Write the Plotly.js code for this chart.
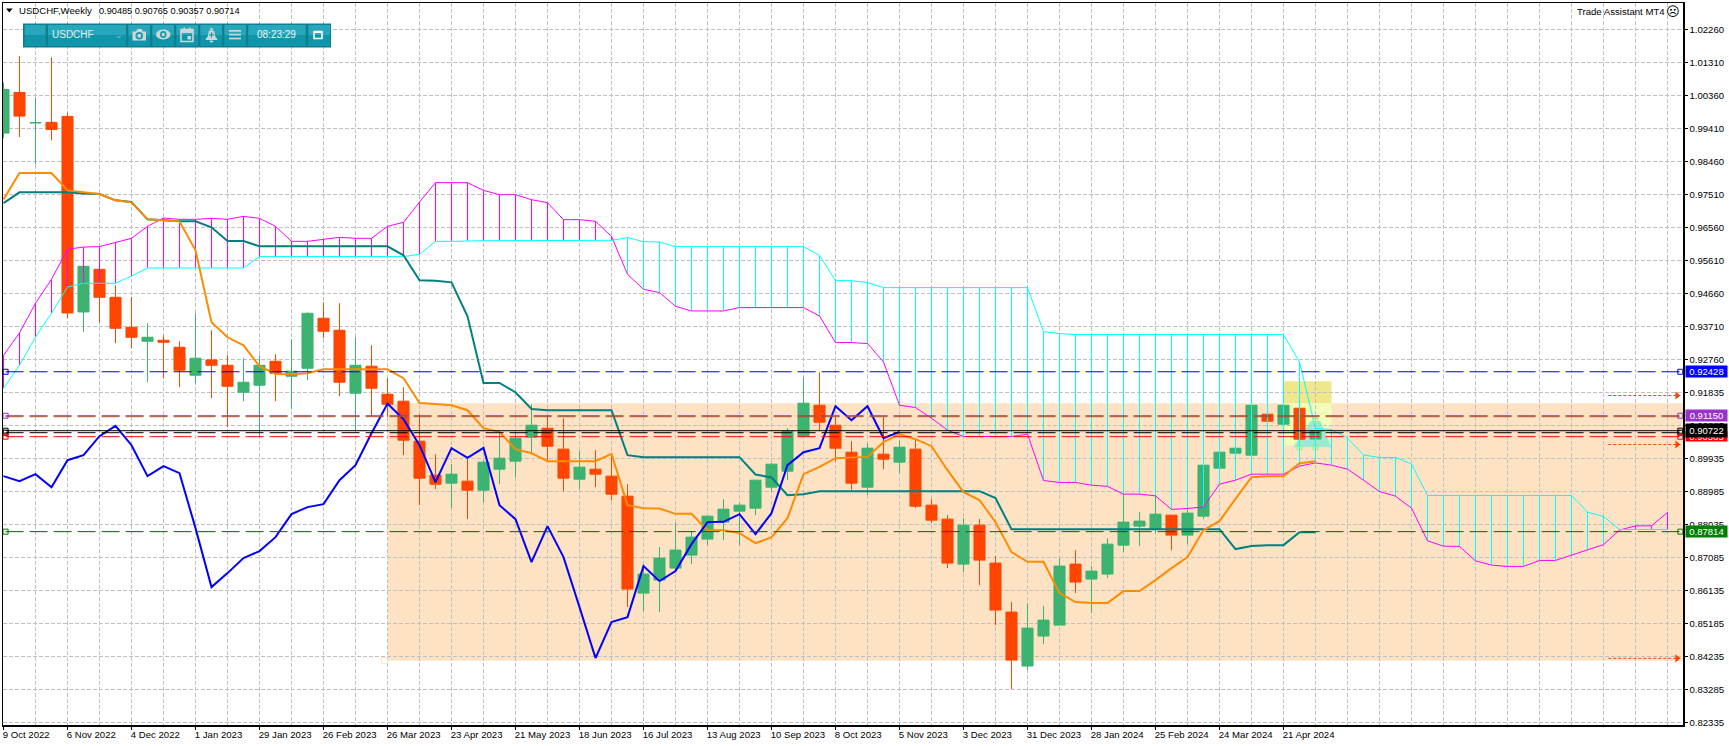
<!DOCTYPE html>
<html>
<head>
<meta charset="utf-8">
<script src="https://cdn.plot.ly/plotly-3.0.1.min.js"></script>
<style>html,body{margin:0;padding:0;background:#fff;overflow:hidden}</style>
</head>
<body>
<div id="chart" style="width:1729px;height:746px"></div>
<script>
const xLabels = ["9 Oct 2022","6 Nov 2022","4 Dec 2022","1 Jan 2023","29 Jan 2023","26 Feb 2023","26 Mar 2023","23 Apr 2023","21 May 2023","18 Jun 2023","16 Jul 2023","13 Aug 2023","10 Sep 2023","8 Oct 2023","5 Nov 2023","3 Dec 2023","31 Dec 2023","28 Jan 2024","25 Feb 2024","24 Mar 2024","21 Apr 2024"];
const yLabels = [1.02260,1.01310,1.00360,0.99410,0.98460,0.97510,0.96560,0.95610,0.94660,0.93710,0.92760,0.91835,0.90885,0.89935,0.88985,0.88035,0.87085,0.86135,0.85185,0.84235,0.83285,0.82335];

const opens = [.99287,1.00457,.99577,.99595,.99767,.94141,.95368,.94563,.93701,.93298,.93327,.93126,.92321,.92761,.92608,.91832,.92033,.92723,.92292,.92522,.93960,.93615,.91803,.92580,.91775,.91573,.90423,.89446,.89216,.89273,.89014,.89618,.89848,.90538,.90797,.90194,.89331,.89618,.89417,.88842,.86053,.86427,.86772,.87146,.87606,.88095,.88411,.88497,.89101,.89561,.90567,.91458,.90883,.90107,.89101,.90050,.89820,.90194,.88583,.88181,.86887,.88008,.86916,.85507,.83955,.84817,.85133,.86887,.86456,.86600,.87433,.87980,.87893,.88296,.87721,.88267,.89647,.90078,.90021,.91200,.90912,.91372,.90485];
const highs = [1.00744,1.01492,1.00313,1.01463,.99862,.95455,.95368,.94908,.94572,.93816,.93471,.93298,.94103,.93615,.92896,.92810,.92896,.92925,.93356,.94132,.94420,.94391,.93413,.93183,.92235,.91976,.91200,.90050,.89762,.89906,.89877,.90653,.90682,.91487,.91171,.91085,.90136,.90165,.90078,.89187,.86858,.87376,.88066,.87836,.88267,.88756,.88641,.89302,.89791,.90797,.92263,.92407,.91113,.90423,.90366,.91113,.90452,.90452,.88756,.88296,.88210,.88181,.87117,.85795,.85766,.85680,.87060,.87290,.86830,.87635,.88928,.88382,.88842,.88296,.88497,.89733,.90107,.90280,.91516,.91257,.91516,.91430,.90765];
const lows = [.99143,.99172,.98387,.99077,.93968,.93566,.93836,.93241,.93097,.92119,.92235,.91976,.92091,.91660,.90826,.91573,.90567,.91573,.91343,.92177,.93385,.91717,.90740,.91142,.91122,.90021,.88583,.89043,.88497,.88181,.88670,.89187,.89388,.90078,.89877,.88986,.89043,.89101,.88727,.85651,.85536,.85507,.86715,.86887,.87433,.87577,.87433,.88296,.88957,.89302,.90567,.90740,.89848,.89014,.88871,.89618,.89504,.88497,.88066,.86772,.86657,.86283,.85133,.83293,.83840,.84587,.85133,.86053,.85478,.86485,.87232,.87405,.87778,.87290,.87462,.88181,.89589,.90021,.89992,.90941,.90855,.90423,.90357];
const closes = [1.00543,.99776,.99592,.99393,.94112,.95455,.94563,.93672,.93413,.93413,.93270,.92465,.92810,.92608,.92005,.92119,.92608,.92378,.92436,.94103,.93586,.92119,.92608,.91947,.91487,.90452,.89360,.89187,.89475,.89014,.89820,.89935,.90510,.90883,.90280,.89360,.89676,.89475,.88900,.86168,.86600,.87060,.87290,.87663,.88267,.88468,.88583,.89302,.89762,.90711,.91516,.90970,.90222,.89216,.90222,.89906,.90251,.88554,.88152,.86916,.88008,.87002,.85565,.84127,.85047,.85277,.86830,.86370,.86686,.87462,.88095,.88124,.88325,.87721,.88353,.89733,.90107,.90222,.91458,.90998,.91458,.90481,.90714];

const tenkan = [.97381,.98137,.98137,.98137,.97639,.97582,.97533,.97352,.97295,.96806,.96777,.96748,.95915,.93845,.93413,.93183,.92580,.92358,.92350,.92378,.92493,.92493,.92493,.92493,.92493,.92235,.91524,.91496,.91458,.91314,.90797,.90691,.90194,.90078,.89848,.89848,.89848,.89848,.90058,.88583,.88497,.88488,.88333,.88333,.87864,.87864,.87778,.87491,.87655,.88210,.89475,.89684,.89935,.89963,.89972,.90395,.90625,.90481,.90280,.89589,.88957,.88727,.88095,.87232,.86953,.86953,.86053,.85795,.85766,.85766,.86111,.86111,.86427,.86772,.87088,.87864,.88124,.88764,.89388,.89417,.89417,.89791,.89848];
const kijun = [.97274,.97582,.97582,.97582,.97582,.97553,.97533,.97352,.97303,.96806,.96777,.96748,.96748,.96576,.96182,.96182,.96030,.96030,.96030,.96030,.96030,.96030,.96030,.96030,.96030,.95771,.95052,.95037,.94994,.94017,.92099,.92099,.91832,.91352,.91314,.91314,.91314,.91314,.91314,.90021,.89963,.89963,.89963,.89963,.89963,.89963,.89963,.89466,.89380,.88871,.88900,.88986,.88986,.88986,.88986,.88986,.88986,.88986,.88986,.88986,.88986,.88986,.88785,.87893,.87893,.87893,.87893,.87893,.87893,.87893,.87893,.87893,.87893,.87893,.87893,.87893,.87893,.87319,.87405,.87433,.87433,.87807,.87807];
const chikou = [.89417,.89273,.89475,.89101,.89877,.90021,.90567,.90863,.90308,.89417,.89705,.89504,.87922,.86226,.86628,.87060,.87261,.87663,.88325,.88526,.88612,.89302,.89733,.90653,.91507,.91056,.90308,.89245,.90222,.89943,.90231,.88583,.88181,.86945,.87980,.87088,.85651,.84184,.85220,.85363,.86830,.86398,.86686,.87462,.88095,.88104,.88325,.87750,.88353,.89733,.90107,.90222,.91430,.91027,.91430,.90510,.90691];
const spanB = [.92896,.93537,.94391,.95081,.95943,.96009,.96021,.96145,.96260,.96605,.96843,.96806,.96806,.96835,.96806,.96892,.96835,.96605,.96173,.96173,.96231,.96288,.96260,.96260,.96605,.96720,.97303,.97861,.97861,.97861,.97639,.97516,.97516,.97372,.97286,.96797,.96797,.96748,.96317,.95225,.94793,.94698,.94305,.94170,.94170,.94170,.94267,.94267,.94267,.94267,.94267,.94026,.93261,.93261,.93232,.92703,.91458,.91392,.91085,.90740,.90558,.90558,.90558,.90558,.90625,.89293,.89236,.89236,.89158,.89124,.88900,.88900,.88851,.88460,.88488,.88526,.89187,.89302,.89475,.89475,.89475,.89705,.89800,.89733,.89618,.89302,.88977,.88842,.88497,.87557,.87405,.87396,.86982,.86858,.86821,.86821,.86993,.86993,.87146,.87304,.87448,.87864,.87988,.87988,.88373];
const spanA = [.91947,.92608,.93422,.94103,.94859,.94966,.94966,.94966,.95176,.95406,.95406,.95406,.95406,.95406,.95406,.95406,.95734,.95734,.95734,.95734,.95734,.95734,.95734,.95734,.95734,.95734,.95800,.96173,.96173,.96193,.96193,.96193,.96193,.96193,.96193,.96193,.96193,.96193,.96202,.96280,.96165,.96153,.96021,.96021,.96021,.96021,.96021,.96021,.96021,.96021,.96021,.95771,.95043,.95043,.94986,.94842,.94842,.94842,.94842,.94842,.94842,.94842,.94842,.94842,.94842,.93577,.93520,.93491,.93491,.93491,.93491,.93491,.93491,.93491,.93491,.93491,.93491,.93491,.93491,.93491,.93491,.92703,.90788,.90760,.90510,.90029,.89955,.89955,.89770,.88862,.88862,.88862,.88862,.88862,.88862,.88862,.88862,.88862,.88862,.88382,.88259,.87885,.87885,.87885,.87885];

const levelBlue = 0.92421, levelPurple = 0.91156, levelBrown = 0.91128, levelBlack = 0.90725, levelBlackDash = 0.90668, levelRed = 0.90553, levelGreen = 0.87821;
const arrowLevels = [0.91737, 0.90328, 0.84176];
const zoneTop = 0.91516, zoneBottom = 0.84107;
const boxTop = 0.92148, boxBottom = 0.90308;
const triangleXs = [81, 82, 82], triangleYs = [0.90251, 0.90251, 0.91007];

// ---- layout frame ----
const W = 1729, H = 746, L = 3, R = 1683, T = 2.5, B = 725;
const barPx = 16, bar0Px = 3.5;
const xMin = (L - bar0Px) / barPx, xMax = (R - bar0Px) / barPx;
const yAt = py => 1.03102 - 0.0002875 * py;
const px = x => (x - L) / (R - L);
const py = y => (B - y) / (B - T);
const GRID = '#c0c0c0';

const bars = opens.map((_, i) => i);
const allBars = spanA.map((_, i) => i);
const tickBars = xLabels.map((_, i) => i * 4);

// cloud histogram
const magX = [], magY = [], cyaX = [], cyaY = [];
allBars.forEach(i => {
  const up = spanB[i] >= spanA[i];
  (up ? magX : cyaX).push(i, i, null);
  (up ? magY : cyaY).push(spanA[i], spanB[i], null);
});

const line = (x, y, color, width, dash) => ({type:'scatter', mode:'lines', x, y, hoverinfo:'skip', showlegend:false, line:{color, width, dash: dash || 'solid', shape:'linear'}});
const hl = (lvl, color, width, dash) => line([0.13, 104.8], [lvl, lvl], color, width, dash);
const sq = (x, y, color, size) => ({type:'scatter', mode:'markers', x, y, hoverinfo:'skip', showlegend:false, marker:{symbol:'square-open', size: size||5, color, line:{color, width:1}}});

const traces = [
  line(magX, magY, '#ff00ff', 1),
  line(cyaX, cyaY, '#00ffff', 1),
  line(allBars, spanB, '#ff00ff', 1),
  line(allBars, spanA, '#00ffff', 1),
  {type:'candlestick', x:bars, open:opens, high:highs, low:lows, close:closes, hoverinfo:'skip', showlegend:false, whiskerwidth:0,
   increasing:{line:{color:'#3cb371', width:1}, fillcolor:'#3cb371'},
   decreasing:{line:{color:'#ff4500', width:1}, fillcolor:'#ff4500'}},
  line(bars, kijun, '#008080', 2),
  line(bars, tenkan, '#ff8c00', 2),
  line(chikou.map((_, i) => i), chikou, '#0000ff', 2),
  hl(levelBlue, '#0000e0', 1, '18px,6px'),
  hl(levelPurple, '#9932cc', 1, '18px,6px'),
  hl(levelBrown, '#a8502a', 1, '18px,6px'),
  hl(levelBlack, '#000000', 1),
  hl(levelBlackDash, '#000000', 1, '18px,6px'),
  hl(levelRed, '#ff0000', 1, '18px,6px'),
  hl(levelGreen, '#006400', 1, '18px,6px')
];
arrowLevels.forEach(v => {
  traces.push(line([100.3, 104.5], [v, v], '#ff4500', 1, '3px,2px'));
  traces.push({type:'scatter', mode:'markers', x:[104.6], y:[v], hoverinfo:'skip', showlegend:false, marker:{symbol:'triangle-right', size:7, color:'#ff4500'}});
});
[[levelBlue,'#0000e0'],[levelPurple,'#9932cc'],[levelBlack,'#000000'],[levelBlackDash,'#000000'],[levelRed,'#ff0000'],[levelGreen,'#008000']].forEach(a => {
  traces.push(sq([0.13,104.8], [a[0],a[0]], a[1]));
});
traces.push(sq([23.8],[zoneBottom],'#ffe4c4',6));
traces.push(sq(triangleXs, triangleYs,'#90ee90',5));

// ---- shapes ----
const TOOL = '#169bb0';
const shapes = [
  {type:'rect', xref:'x', yref:'y', layer:'below', x0:24, x1:xMax, y0:zoneBottom, y1:zoneTop, fillcolor:'#fde3c3', line:{width:0}},
  {type:'rect', xref:'x', yref:'y', layer:'below', x0:80.03, x1:83, y0:zoneTop, y1:boxTop, fillcolor:'#f0e68c', line:{width:0}},
  {type:'rect', xref:'x', yref:'y', layer:'below', x0:80.03, x1:83, y0:boxBottom, y1:zoneTop, fillcolor:'#f1feb8', line:{width:0}},
  {type:'path', xref:'x', yref:'y', layer:'below', path:`M 80.6 ${triangleYs[0]} L 81.7 ${triangleYs[2]} L 82.3 ${triangleYs[2]} L 83 ${triangleYs[0]} Z`, fillcolor:'#9fe9d3', line:{width:0}}
];
const rectPx = (x0,y0,x1,y1,fill,lw,lc,kind) => ({type:kind||'rect', xref:'paper', yref:'paper', layer:'above', x0:px(x0), x1:px(x1), y0:py(y1), y1:py(y0), fillcolor:fill, line:{width:lw||0, color:lc||fill}});
const pathPx = (pts,fill,lw,lc) => ({type:'path', xref:'paper', yref:'paper', layer:'above', path:'M '+pts.map(p=>px(p[0])+' '+py(p[1])).join(' L ')+' Z', fillcolor:fill, line:{width:lw||0, color:lc||fill}});

shapes.push(pathPx([[6,8],[12.6,8],[9.3,12]],'#000000'));
shapes.push(rectPx(23,23,331,47,'#0f7f8f'));
[[24.7,45.7],[48,126],[128.3,150],[152.3,174],[176.3,198],[200.3,222],[224.3,246],[248.3,305.7],[308.3,330]].forEach(s => {
  shapes.push(rectPx(s[0],24.5,s[1],35,'#27a7bb'));
  shapes.push(rectPx(s[0],35,s[1],45.5,'#1096aa'));
});
const ICON = '#cfd6d6';
// camera
shapes.push(pathPx([[132.5,31],[136,31],[137.5,28.5],[141.5,28.5],[143,31],[146,31],[146,40],[132.5,40]],ICON));
shapes.push(rectPx(135.5,31.5,143,39,TOOL,0,null,'circle'));
shapes.push(rectPx(137.3,33.3,141.2,37.2,ICON,0,null,'circle'));
// eye
shapes.push(rectPx(156,29,170.5,39,ICON,0,null,'circle'));
shapes.push(rectPx(160,30.5,166.5,37.5,TOOL,0,null,'circle'));
shapes.push(rectPx(161.7,32.2,164.8,35.8,ICON,0,null,'circle'));
// calendar
shapes.push(rectPx(181,29,193,41,'rgba(0,0,0,0)',1.6,ICON));
shapes.push(rectPx(181,29,193,32.5,ICON));
shapes.push(rectPx(183.5,27,185,30,ICON));
shapes.push(rectPx(189,27,190.5,30,ICON));
shapes.push(rectPx(187.5,35.5,191,39,ICON));
// bell
shapes.push(pathPx([[209,30],[214,30],[215.3,36],[217.3,38.5],[217.3,39.5],[205.7,39.5],[205.7,38.5],[207.7,36]],ICON));
shapes.push(rectPx(210.3,27.3,212.7,30,ICON,0,null,'circle'));
shapes.push(rectPx(209.7,40,213.3,42,ICON,0,null,'circle'));
shapes.push(rectPx(210.9,31.8,212.1,37,TOOL));
shapes.push(rectPx(208.9,33.8,214.1,35,TOOL));
// menu
[29.5,33.3,37.2].forEach(y => shapes.push(rectPx(229,y,241,y+1.7,ICON)));
// window
shapes.push(rectPx(314,31,322,38,'rgba(0,0,0,0)',1.5,'#ffffff'));
shapes.push(rectPx(314,30.5,322,32.6,'#ffffff'));

// ---- annotations ----
const txt = (x,y,text,size,color,anchor,family) => ({xref:'paper', yref:'paper', x:px(x), y:py(y), text, showarrow:false, xanchor:anchor||'left', yanchor:'middle', font:{family:family||'Liberation Sans, Arial, sans-serif', size:size, color:color||'#000'}});
const tag = (v,label,bg,h) => ({xref:'paper', yref:'y', x:px(1685), y:v, text:label, showarrow:false, xanchor:'left', yanchor:'middle', width:41, height:h, bgcolor:bg, borderpad:0, align:'center', font:{family:'Liberation Sans, Arial, sans-serif', size:9.5, color:'#fff'}});
const annotations = [
  txt(16.5,10.5,'USDCHF,Weekly',9.6),
  txt(97,10.5,'0.90485 0.90765 0.90357 0.90714',9.2),
  txt(50,34,'USDCHF',10,'#e6eeee'),
  txt(276.5,34,'08:23:29',10,'#f0f4f4','center'),
  txt(118.5,34.5,'⌄',9,'#7fc4d0','center','DejaVu Sans'),
  txt(1667,11.5,'Trade Assistant MT4',9.6,'#000','right'),
  txt(1673,11.5,'☹',13,'#000','center','DejaVu Sans'),
  tag(levelBlue,'0.92428','#0000ff',11),
  tag(levelPurple,'0.91150','#9932cc',11),
  tag(levelRed,'0.90565','#ff0000',9),
  tag(levelBlack,'0.90722','#000000',13),
  tag(levelGreen,'0.87814','#008000',11)
];

const layout = {
  width:W, height:H, autosize:false,
  margin:{l:L, r:W-R, t:T, b:H-B, pad:0},
  paper_bgcolor:'#ffffff', plot_bgcolor:'#ffffff',
  showlegend:false, dragmode:false, hovermode:false,
  boxgap:0.31, boxgroupgap:0,
  font:{family:'Liberation Sans, Arial, sans-serif', size:9.6, color:'#000'},
  xaxis:{type:'linear', range:[xMin,xMax], autorange:false, fixedrange:true, rangeslider:{visible:false},
    tickmode:'array', tickvals:tickBars, ticktext:xLabels, ticks:'outside', ticklen:3, tickwidth:1, tickcolor:'#000',
    ticklabelposition:'outside right', ticklabelshift:-2, tickangle:0,
    showline:true, linecolor:'#000', linewidth:1.5, mirror:true, zeroline:false,
    showgrid:true, gridcolor:GRID, griddash:'4px,2px', gridwidth:1,
    minor:{tickmode:'linear', tick0:0, dtick:2, showgrid:true, gridcolor:GRID, griddash:'4px,2px', gridwidth:1, ticks:''},
    tickfont:{size:9.6, color:'#000'}},
  yaxis:{type:'linear', side:'right', range:[yAt(B),yAt(T)], autorange:false, fixedrange:true,
    tickmode:'array', tickvals:yLabels, ticktext:yLabels.map(v=>v.toFixed(5)), ticks:'outside', ticklen:3, tickwidth:1, tickcolor:'#000',
    showline:true, linecolor:'#000', linewidth:1.5, mirror:true, zeroline:false,
    showgrid:true, gridcolor:GRID, griddash:'4px,2px', gridwidth:1,
    tickfont:{size:9.6, color:'#000'}},
  shapes, annotations
};
Plotly.newPlot('chart', traces, layout, {staticPlot:true, displayModeBar:false, responsive:false});
</script>
</body>
</html>
